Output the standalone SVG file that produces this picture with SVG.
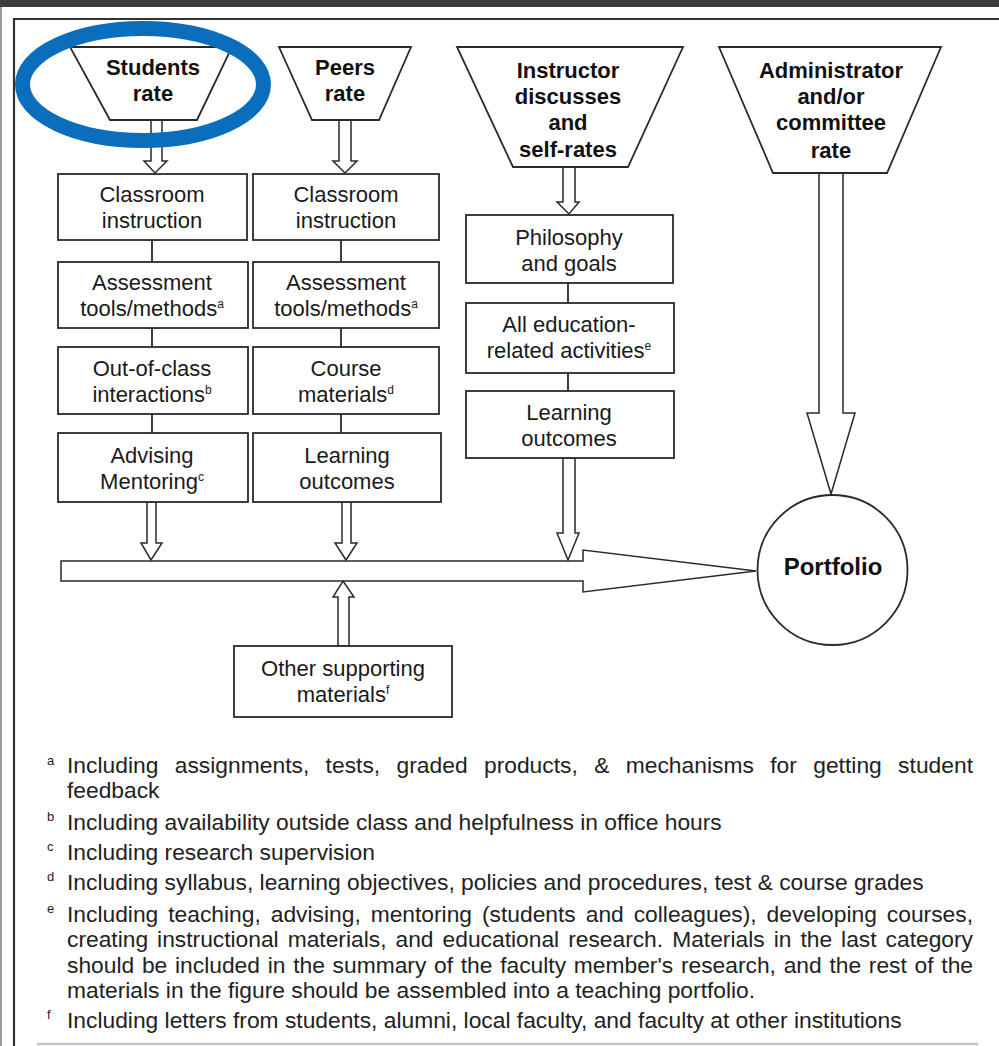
<svg xmlns="http://www.w3.org/2000/svg" width="999" height="1046" viewBox="0 0 999 1046">
<style>
.shape{fill:#fff;stroke:#2a2a2a;stroke-width:1.8}
.arrow{fill:#fff;stroke:#2a2a2a;stroke-width:1.5;stroke-linejoin:miter}
.link{stroke:#2a2a2a;stroke-width:1.8;fill:none}
.lbl{font-family:"Liberation Sans",Arial,sans-serif;font-size:22px;fill:#1a1a1a;text-anchor:middle}
.bold{font-weight:bold;fill:#111}
.sup{font-size:12px}
.fn{font-family:"Liberation Sans",Arial,sans-serif;font-size:22.8px;fill:#222}
.fm{font-family:"Liberation Sans",Arial,sans-serif;font-size:13px;fill:#222}
</style>
<rect x="0" y="0" width="999" height="1046" fill="#fff"/>
<rect x="0" y="0" width="999" height="7" fill="#3d3d3d"/>
<rect x="0" y="7" width="2" height="1039" fill="#9a9a9a"/>
<path d="M14,1046 V19 H999" fill="none" stroke="#333" stroke-width="2.2"/>
<line x1="37" y1="1044" x2="978" y2="1044" stroke="#c4c4c4" stroke-width="2.5"/>

<g id="connectors">
<line class="link" x1="152" y1="240" x2="152" y2="262"/>
<line class="link" x1="152" y1="328" x2="152" y2="347"/>
<line class="link" x1="152" y1="414" x2="152" y2="433"/>
<line class="link" x1="341" y1="240" x2="341" y2="262"/>
<line class="link" x1="341" y1="328" x2="341" y2="347"/>
<line class="link" x1="341" y1="414" x2="341" y2="433"/>
<line class="link" x1="568" y1="283" x2="568" y2="303"/>
<line class="link" x1="568" y1="373" x2="568" y2="391"/>
<polygon class="arrow" points="151,120 162,120 162,161 167,161 155,173 144,161 151,161"/>
<polygon class="arrow" points="339,120 351,120 351,161 357,161 345,173 333,161 339,161"/>
<polygon class="arrow" points="563,167 575,167 575,202 579,202 569,214 557,202 563,202"/>
<polygon class="arrow" points="819,173 843,173 843,413 855,413 831,494 807,413 819,413"/>
<polygon class="arrow" points="147,502 156,502 156,543 162,543 151,560 141,543 147,543"/>
<polygon class="arrow" points="342,502 351,502 351,543 357,543 346,560 335,543 342,543"/>
<polygon class="arrow" points="563,458 575,458 575,533 579,533 568,560 557,533 563,533"/>
<polygon class="arrow" points="61,561 583,561 583,550 756,571 583,592 583,581 61,581"/>
<polygon class="arrow" points="343,581 354,597 349,597 349,646 338,646 338,597 333,597"/>
</g>

<g id="students-rate">
<polygon class="shape" points="70,47 232,47 197,120 110,120"/>
<text class="lbl bold" x="153" y="75">Students</text>
<text class="lbl bold" x="153" y="101">rate</text>
</g>
<g id="peers-rate">
<polygon class="shape" points="279,47 411,47 379,120 312,120"/>
<text class="lbl bold" x="345" y="75">Peers</text>
<text class="lbl bold" x="345" y="101">rate</text>
</g>
<g id="instructor">
<polygon class="shape" points="457,47 683,47 628,167 513,167"/>
<text class="lbl bold" x="568" y="78">Instructor</text>
<text class="lbl bold" x="568" y="104">discusses</text>
<text class="lbl bold" x="568" y="130">and</text>
<text class="lbl bold" x="568" y="157">self-rates</text>
</g>
<g id="administrator">
<polygon class="shape" points="719,47 941,47 887,173 773,173"/>
<text class="lbl bold" x="831" y="78">Administrator</text>
<text class="lbl bold" x="831" y="104">and/or</text>
<text class="lbl bold" x="831" y="130">committee</text>
<text class="lbl bold" x="831" y="158">rate</text>
</g>

<g id="s-classroom">
<rect class="shape" x="58" y="174" width="189" height="66"/>
<text class="lbl" x="152" y="202">Classroom</text>
<text class="lbl" x="152" y="228">instruction</text>
</g>
<g id="s-assessment">
<rect class="shape" x="58" y="262" width="190" height="66"/>
<text class="lbl" x="152" y="290">Assessment</text>
<text class="lbl" x="152" y="316">tools/methods<tspan class="sup" dy="-8">a</tspan></text>
</g>
<g id="s-outofclass">
<rect class="shape" x="58" y="347" width="190" height="67"/>
<text class="lbl" x="152" y="376">Out-of-class</text>
<text class="lbl" x="152" y="402">interactions<tspan class="sup" dy="-8">b</tspan></text>
</g>
<g id="s-advising">
<rect class="shape" x="58" y="433" width="190" height="69"/>
<text class="lbl" x="152" y="463">Advising</text>
<text class="lbl" x="152" y="489">Mentoring<tspan class="sup" dy="-8">c</tspan></text>
</g>

<g id="p-classroom">
<rect class="shape" x="253" y="174" width="186" height="66"/>
<text class="lbl" x="346" y="202">Classroom</text>
<text class="lbl" x="346" y="228">instruction</text>
</g>
<g id="p-assessment">
<rect class="shape" x="253" y="262" width="186" height="66"/>
<text class="lbl" x="346" y="290">Assessment</text>
<text class="lbl" x="346" y="316">tools/methods<tspan class="sup" dy="-8">a</tspan></text>
</g>
<g id="p-course">
<rect class="shape" x="253" y="347" width="186" height="67"/>
<text class="lbl" x="346" y="376">Course</text>
<text class="lbl" x="346" y="402">materials<tspan class="sup" dy="-8">d</tspan></text>
</g>
<g id="p-learning">
<rect class="shape" x="253" y="433" width="188" height="69"/>
<text class="lbl" x="347" y="463">Learning</text>
<text class="lbl" x="347" y="489">outcomes</text>
</g>

<g id="i-philosophy">
<rect class="shape" x="466" y="215" width="207" height="68"/>
<text class="lbl" x="569" y="245">Philosophy</text>
<text class="lbl" x="569" y="271">and goals</text>
</g>
<g id="i-education">
<rect class="shape" x="466" y="303" width="208" height="70"/>
<text class="lbl" x="569" y="332">All education-</text>
<text class="lbl" x="569" y="358">related activities<tspan class="sup" dy="-8">e</tspan></text>
</g>
<g id="i-learning">
<rect class="shape" x="466" y="391" width="208" height="67"/>
<text class="lbl" x="569" y="420">Learning</text>
<text class="lbl" x="569" y="446">outcomes</text>
</g>

<g id="other-supporting">
<rect class="shape" x="234" y="646" width="218" height="71"/>
<text class="lbl" x="343" y="676">Other supporting</text>
<text class="lbl" x="343" y="702">materials<tspan class="sup" dy="-8">f</tspan></text>
</g>

<g id="portfolio">
<circle class="shape" cx="832.5" cy="570" r="75"/>
<text class="lbl bold" x="833" y="575" style="font-size:24px">Portfolio</text>
</g>

<ellipse cx="143" cy="84.5" rx="120.5" ry="56" fill="none" stroke="#0a6ebd" stroke-width="15"/>

<g id="footnotes">
<text class="fm" x="47" y="765">a</text>
<text class="fn" x="67" y="773" word-spacing="10" textLength="906" lengthAdjust="spacing">Including assignments, tests, graded products, &amp; mechanisms for getting student</text>
<text class="fn" x="67" y="798">feedback</text>
<text class="fm" x="47" y="821">b</text>
<text class="fn" x="67" y="830">Including availability outside class and helpfulness in office hours</text>
<text class="fm" x="47" y="851">c</text>
<text class="fn" x="67" y="860">Including research supervision</text>
<text class="fm" x="47" y="881">d</text>
<text class="fn" x="67" y="890">Including syllabus, learning objectives, policies and procedures, test &amp; course grades</text>
<text class="fm" x="47" y="913">e</text>
<text class="fn" x="67" y="922" word-spacing="3.6" textLength="906" lengthAdjust="spacing">Including teaching, advising, mentoring (students and colleagues), developing courses,</text>
<text class="fn" x="67" y="947" word-spacing="2.7" textLength="906" lengthAdjust="spacing">creating instructional materials, and educational research. Materials in the last category</text>
<text class="fn" x="67" y="973" word-spacing="1.4" textLength="906" lengthAdjust="spacing">should be included in the summary of the faculty member's research, and the rest of the</text>
<text class="fn" x="67" y="998">materials in the figure should be assembled into a teaching portfolio.</text>
<text class="fm" x="47" y="1019">f</text>
<text class="fn" x="67" y="1028">Including letters from students, alumni, local faculty, and faculty at other institutions</text>
</g>
</svg>
